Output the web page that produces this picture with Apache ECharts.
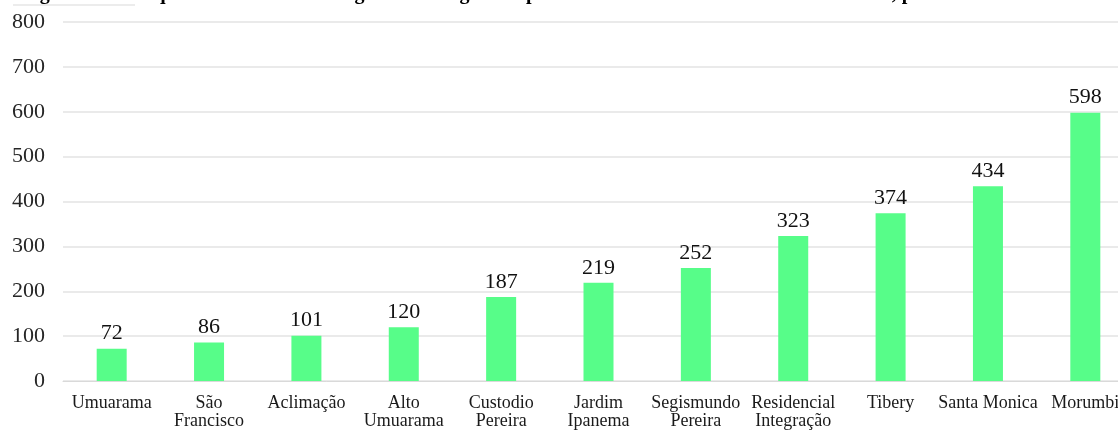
<!DOCTYPE html>
<html>
<head>
    <meta charset="utf-8">
    <script src="https://cdn.jsdelivr.net/npm/echarts@6/dist/echarts.min.js"></script>
</head>
<body style="margin:0;background:#fff;">
    <div id="main" style="width:1118px;height:430px;"></div>

<script type="text/javascript">
    // bairros e numero de registros
    var bairros = ['Umuarama', 'São\nFrancisco', 'Aclimação', 'Alto\nUmuarama', 'Custodio\nPereira',
        'Jardim\nIpanema', 'Segismundo\nPereira', 'Residencial\nIntegração', 'Tibery', 'Santa Monica', 'Morumbi'];
    var registros = [72, 86, 101, 120, 187, 219, 252, 323, 374, 434, 598];
    var yTicks = [0, 100, 200, 300, 400, 500, 600, 700, 800];

    var myChart = echarts.init(document.getElementById('main'));

    var option = {
        backgroundColor: '#ffffff',
        animation: false,
        title: {
            text: 'Figura 10 – Frequência associada de registros na região do perímetro urbano da cidade de Uberlândia, por bairros',
            left: 17,
            top: -21,
            textStyle: {
                fontFamily: 'Liberation Serif',
                fontWeight: 'bold',
                fontSize: 20,
                color: '#000'
            }
        },
        graphic: [
            {
                type: 'line',
                shape: { x1: 13, y1: 5, x2: 135, y2: 5 },
                style: { stroke: '#e6e6e6', lineWidth: 1.5 }
            }
        ],
        grid: {
            left: 63,
            right: -16,
            top: 22,
            bottom: 49,
            outerBoundsMode: 'none',
            containLabel: false
        },
        xAxis: {
            type: 'category',
            data: bairros,
            axisLine: { lineStyle: { color: '#d9d9d9' } },
            axisTick: { show: false },
            axisLabel: {
                interval: 0,
                margin: 13,
                fontFamily: 'Liberation Serif',
                fontSize: 18,
                lineHeight: 18,
                color: '#1a1a1a'
            }
        },
        yAxis: {
            type: 'value',
            min: yTicks[0],
            max: yTicks[yTicks.length - 1],
            interval: 100,
            axisLine: { show: false },
            axisTick: { show: false },
            axisLabel: {
                margin: 18,
                fontFamily: 'Liberation Serif',
                fontSize: 22,
                color: '#262626'
            },
            splitLine: { lineStyle: { color: '#e3e3e3', width: 1.5 } }
        },
        series: [
            {
                type: 'bar',
                data: registros,
                barWidth: 30,
                itemStyle: { color: '#57fd89' },
                label: {
                    show: true,
                    position: 'top',
                    distance: 4,
                    fontFamily: 'Liberation Serif',
                    fontSize: 22,
                    color: '#111'
                }
            }
        ]
    };

    myChart.setOption(option);
</script>
</body>
</html>
